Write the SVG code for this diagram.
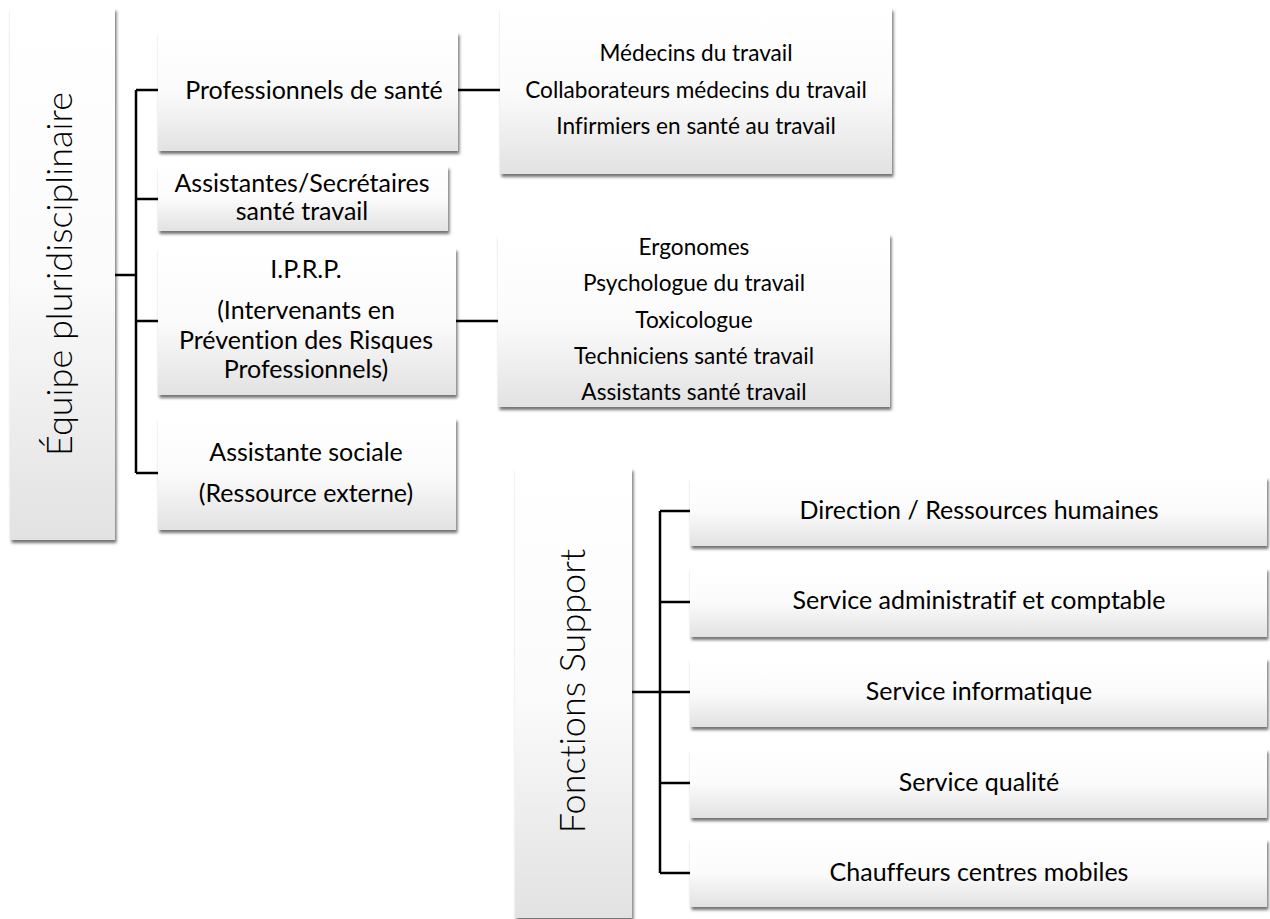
<svg xmlns="http://www.w3.org/2000/svg" width="1270" height="919" viewBox="0 0 1270 919">
<style>
.box{fill:url(#g);filter:url(#sh)}
.t{font-family:Lato,"Liberation Sans",sans-serif;font-size:25px;fill:#000;text-anchor:middle;font-variant-ligatures:none}
.s{font-size:22.6px}
.ti{font-family:Lato,"Liberation Sans",sans-serif;font-size:36px;font-weight:300;fill:#000;text-anchor:middle;font-variant-ligatures:none}
.c{stroke:#000;stroke-width:2.5;fill:none}
</style>
<defs>
<linearGradient id="g" x1="0" y1="0" x2="0" y2="1">
<stop offset="0" stop-color="#ffffff"/>
<stop offset="0.5" stop-color="#fbfbfb"/>
<stop offset="1" stop-color="#e2e2e2"/>
</linearGradient>
<filter id="sh" x="-5%" y="-10%" width="115%" height="130%">
<feDropShadow dx="1.5" dy="3" stdDeviation="1.5" flood-color="#000" flood-opacity="0.55"/>
</filter>
</defs>
<rect width="1270" height="919" fill="#fff"/>
<g id="connectors">
<path class="c" d="M115 275H136M136 90V473M136 90H158M136 199H158M136 321H158M136 473H158"/>
<path class="c" d="M458 90H500M456 321H498"/>
<path class="c" d="M632 692H660M660 511V873M660 511H690M660 602H690M660 692H690M660 783H690M660 873H690"/>
</g>
<g id="equipe">
<rect class="box" x="10" y="8" width="105" height="532"/>
<text class="ti" transform="translate(72,274) rotate(-90)">Équipe pluridisciplinaire</text>
</g>
<g id="professionnels">
<rect class="box" x="158" y="32" width="300" height="119"/>
<text class="t" x="314" y="99">Professionnels de santé</text>
</g>
<g id="assistantes">
<rect class="box" x="158" y="166" width="290" height="65"/>
<text class="t" x="302" y="192">Assistantes/Secrétaires</text>
<text class="t" x="302" y="220">santé travail</text>
</g>
<g id="iprp">
<rect class="box" x="158" y="248" width="298" height="147"/>
<text class="t" x="306" y="278">I.P.R.P.</text>
<text class="t" x="306" y="319">(Intervenants en</text>
<text class="t" x="306" y="349">Prévention des Risques</text>
<text class="t" x="306" y="378">Professionnels)</text>
</g>
<g id="sociale">
<rect class="box" x="158" y="418" width="298" height="112"/>
<text class="t" x="306" y="461">Assistante sociale</text>
<text class="t" x="306" y="502">(Ressource externe)</text>
</g>
<g id="medecins">
<rect class="box" x="500" y="8" width="392" height="166"/>
<text class="t s" x="696" y="61">Médecins du travail</text>
<text class="t s" x="696" y="98">Collaborateurs médecins du travail</text>
<text class="t s" x="696" y="134">Infirmiers en santé au travail</text>
</g>
<g id="ergonomes">
<rect class="box" x="498" y="234" width="392" height="173"/>
<text class="t s" x="694" y="255">Ergonomes</text>
<text class="t s" x="694" y="291">Psychologue du travail</text>
<text class="t s" x="694" y="328">Toxicologue</text>
<text class="t s" x="694" y="364">Techniciens santé travail</text>
<text class="t s" x="694" y="400">Assistants santé travail</text>
</g>
<g id="fonctions">
<rect class="box" x="515" y="468" width="117" height="450"/>
<text class="ti" transform="translate(585,691) rotate(-90)">Fonctions Support</text>
</g>
<g id="direction">
<rect class="box" x="690" y="477" width="577" height="69"/>
<text class="t" x="979" y="519">Direction / Ressources humaines</text>
</g>
<g id="administratif">
<rect class="box" x="690" y="568" width="577" height="69"/>
<text class="t" x="979" y="609">Service administratif et comptable</text>
</g>
<g id="informatique">
<rect class="box" x="690" y="658" width="577" height="69"/>
<text class="t" x="979" y="700">Service informatique</text>
</g>
<g id="qualite">
<rect class="box" x="690" y="749" width="577" height="69"/>
<text class="t" x="979" y="791">Service qualité</text>
</g>
<g id="chauffeurs">
<rect class="box" x="690" y="839" width="577" height="68"/>
<text class="t" x="979" y="881">Chauffeurs centres mobiles</text>
</g>
</svg>
